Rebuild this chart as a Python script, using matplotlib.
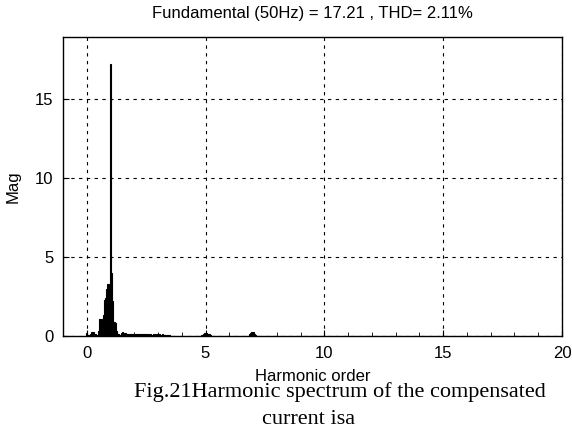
import numpy as np
import matplotlib.pyplot as plt

plt.rcParams['font.family'] = ['Liberation Sans', 'DejaVu Sans']

# harmonic spectrum, bins of 0.05 harmonic order from 0 to 3.5
low_orders = np.round(np.arange(0, 3.55, 0.05), 2)
low_mag = [0.20, 0.05, 0.05, 0.10, 0.25, 0.28, 0.25, 0.10, 0.05, 0.05,
           0.30, 1.05, 1.10, 1.00, 1.30, 2.30, 2.40, 3.00, 3.30, 2.90,
           17.21, 4.00, 2.20, 0.90, 0.80, 0.30, 0.10, 0.10, 0.05, 0.20,
           0.25, 0.10, 0.20, 0.20, 0.15, 0.10, 0.15, 0.12, 0.15, 0.10,
           0.15, 0.12, 0.10, 0.15, 0.10, 0.12, 0.15, 0.10, 0.12, 0.10,
           0.15, 0.10, 0.08, 0.12, 0.10, 0.08, 0.12, 0.10, 0.08, 0.10,
           0.12, 0.10, 0.08, 0.06, 0.10, 0.08, 0.06, 0.05, 0.06, 0.05,
           0.05]

# small bumps further out (around 5th and 7th harmonic)
high_orders = [4.85, 4.90, 4.95, 5.00, 5.05, 5.10, 5.15, 5.20,
               6.85, 6.90, 6.95, 7.00, 7.05, 7.10]
high_mag = [0.08, 0.12, 0.18, 0.22, 0.18, 0.12, 0.10, 0.08,
            0.10, 0.18, 0.25, 0.25, 0.15, 0.08]

title = 'Fundamental (50Hz) = 17.21 , THD= 2.11%'
caption1 = 'Fig.21Harmonic spectrum of the compensated'
caption2 = 'current isa'

fig = plt.figure(figsize=(5.72, 4.37), dpi=100)
ax = fig.add_axes([0.110, 0.2311, 0.8725, 0.6842])

ax.bar(low_orders, low_mag, width=0.05, color='black', edgecolor='black', linewidth=0.8)
ax.bar(high_orders, high_mag, width=0.05, color='black', edgecolor='black', linewidth=0.8)

ax.set_xlim(-1, 20)
ax.set_ylim(0, 18.9)
ax.set_xticks([0, 5, 10, 15, 20])
ax.set_yticks([0, 5, 10, 15])
ax.set_xticks(np.arange(-1, 20, 1), minor=True)
ax.tick_params(direction='in', labelsize=12, length=4, pad=7)
ax.tick_params(axis='x', which='minor', direction='in', length=3)
ax.grid(True, color='black', linestyle=(0, (3, 4)), linewidth=0.8)
ax.set_axisbelow(False)
for s in ax.spines.values():
    s.set_linewidth(1.0)

fig.text(0.546, 0.968, title, ha='center', va='center', fontsize=12)
ax.set_ylabel('Mag', fontsize=12, labelpad=10)
ax.set_xlabel('Harmonic order', fontsize=12, labelpad=6)

fig.text(0.594, 0.103, caption1, ha='center', va='center', fontsize=16,
         family='Liberation Serif')
fig.text(0.539, 0.040, caption2, ha='center', va='center', fontsize=16,
         family='Liberation Serif')

fig.savefig('out.png', dpi=100)
